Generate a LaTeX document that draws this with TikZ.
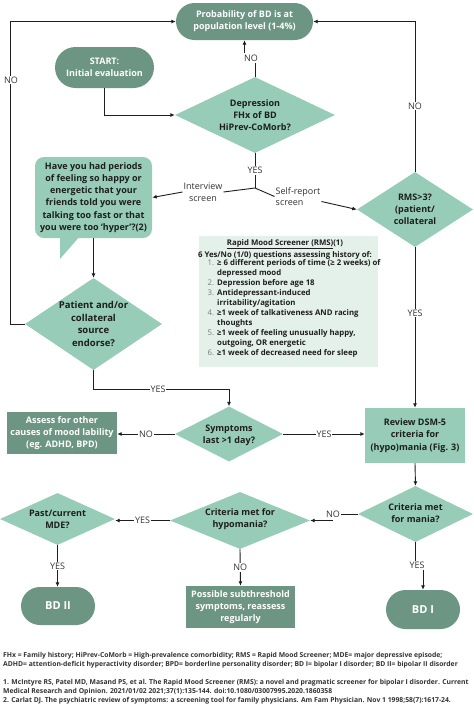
\documentclass[tikz,border=0pt]{standalone}
\usepackage{fontspec}
\setmainfont{Open Sans}
\usetikzlibrary{shapes.geometric,shapes.misc,arrows.meta}
\definecolor{dkg}{HTML}{6C9683}
\definecolor{ltg}{HTML}{96CCB8}
\definecolor{pale}{HTML}{E4F0EA}
\definecolor{ink}{HTML}{1E1E1E}
\definecolor{labc}{HTML}{333333}
\definecolor{numg}{HTML}{7A7A7A}
\newcommand{\rn}[1]{\makebox[9.5pt][l]{\color{numg}\mdseries #1}}
\begin{document}
\begin{tikzpicture}[x=1pt,y=-1pt,
 nfont/.style={font=\bfseries\fontsize{9}{12.2}\selectfont},
 pill/.style={rounded rectangle, fill=dkg, text=white, nfont, align=center, inner sep=0pt},
 dbox/.style={rectangle, fill=dkg, text=white, nfont, align=center, inner sep=0pt},
 lbox/.style={rectangle, fill=ltg, text=ink, nfont, align=center, inner sep=0pt},
 dia/.style={diamond, fill=ltg, inner sep=0pt},
 dtext/.style={text=ink, nfont, align=center, inner sep=0pt},
 lab/.style={text=labc, font=\fontsize{9}{11.5}\selectfont, inner sep=1pt, fill=white},
 conn/.style={draw=ink, line width=0.9pt},
 arr/.style={conn, -{Latex[length=4.5pt,width=4pt]}},
 fn/.style={text=labc, font=\bfseries\fontsize{6.8}{9}\selectfont, inner sep=0pt, anchor=base west},
]
\fill[white] (0,0) rectangle (474,705);
\useasboundingbox (0,0) rectangle (474,705);

% nodes
\node[pill, minimum width=137pt, minimum height=37pt] (top) at (244.5,21.5) {Probability of BD is at\\population level (1-4\%)};
\node[pill, minimum width=99pt, minimum height=41pt] (start) at (104.5,67.5) {START:\\Initial evaluation};
\node[dia, minimum width=160pt, minimum height=76pt] (dep) at (255,115) {};
\node[dtext] at (dep) {Depression\\FHx of BD\\HiPrev-CoMorb?};

\fill[ltg] (60,236) -- (80,236) -- (60,259) -- cycle;
\node[rectangle, rounded corners=9pt, fill=ltg, minimum width=117pt, minimum height=81pt, inner sep=0pt, text=ink, nfont, align=center] (bub) at (93.5,197.5) {Have you had periods\\of feeling so happy or\\energetic that your\\friends told you were\\talking too fast or that\\you were too ‘hyper’?(2)};

\node[dia, minimum width=137pt, minimum height=92pt] (pat) at (93.5,324) {};
\node[dtext, font=\bfseries\fontsize{9.5}{12.5}\selectfont] at (pat) {Patient and/or\\collateral\\source\\endorse?};

\node[dia, minimum width=116pt, minimum height=75pt] (rms) at (415,209.5) {};
\node[dtext] at (rms) {RMS>3?\\(patient/\\collateral};

\node[rectangle, fill=pale, minimum width=179pt, minimum height=131pt, inner sep=0pt] (rmsb) at (288.5,301.5) {};
\node[text=ink, font=\bfseries\fontsize{7.8}{12}\selectfont, align=center, inner sep=0pt] (rmst) at (285,249) {\underline{Rapid Mood Screener (RMS)}(1)\\6 Yes/No (1/0) questions assessing history of:};
\node[text=ink, font=\bfseries\fontsize{7.8}{10}\selectfont, align=left, anchor=north west, inner sep=0pt] (rmsl) at (207.5,259) {\rn{1.}≥ 6 different periods of time (≥ 2 weeks) of\\
\hspace*{9.5pt}depressed mood\\
\rn{2.}Depression before age 18\\
\rn{3.}Antidepressant-induced\\
\hspace*{9.5pt}irritability/agitation\\
\rn{4.}≥1 week of talkativeness AND racing\\
\hspace*{9.5pt}thoughts\\
\rn{5.}≥1 week of feeling unusually happy,\\
\hspace*{9.5pt}outgoing, OR energetic\\
\rn{6.}≥1 week of decreased need for sleep};

\node[dia, minimum width=108pt, minimum height=55pt] (sym) at (229,434) {};
\node[dtext] at ([yshift=-1.5pt]sym.center) {Symptoms\\last >1 day?};
\node[dbox, minimum width=110pt, minimum height=42pt] (assess) at (62,433) {Assess for other\\causes of mood lability\\(eg. ADHD, BPD)};
\node[lbox, minimum width=100pt, minimum height=55pt] (review) at (415,435.5) {Review DSM-5\\criteria for\\(hypo)mania (Fig. 3)};

\node[dia, minimum width=115pt, minimum height=56pt] (mania) at (415.5,514) {};
\node[dtext] at ([yshift=1pt]mania.center) {Criteria met\\for mania?};
\node[dia, minimum width=140pt, minimum height=57pt] (hypo) at (240,520.5) {};
\node[dtext] at ([yshift=1pt]hypo.center) {Criteria met for\\hypomania?};
\node[dia, minimum width=115pt, minimum height=52pt] (mde) at (57.5,519) {};
\node[dtext] at (mde) {Past/current\\MDE?};

\node[pill, minimum width=74pt, minimum height=38pt, font=\bfseries\fontsize{11}{13}\selectfont] (bd2) at (58,606) {BD II};
\node[dbox, minimum width=109pt, minimum height=42pt] (poss) at (240.5,607) {Possible subthreshold\\symptoms, reassess\\regularly};
\node[pill, minimum width=74pt, minimum height=39pt, font=\bfseries\fontsize{11}{13}\selectfont] (bd1) at (423,609.5) {BD I};

% connectors
\draw[arr] (start.south) |- (dep.west);
\node[lab] (nt) at (251,58) {NO};
\draw[conn] (dep.north) -- (dep.north |- nt.south);
\draw[arr] (nt.north -| top.south) -- (top.south);

\coordinate (jn) at (255,188);
\draw[conn] (dep.south) -- node[lab]{YES} (jn);
\node[lab, align=center, fill=none] (intv) at (203,192) {Interview\\screen};
\draw[conn] (jn) -- (intv.east);
\draw[arr] (intv.west) -- (bub.east);
\node[lab, align=left, fill=none] (sr) at (298,196.5) {Self-report\\screen};
\draw[conn] (jn) -- (sr.west);
\draw[arr] ([yshift=-5pt]sr.east) -- (rms.west);

\draw[arr] (pat.west) -- ++(-14,0) |- (top.west);
\node[lab] at (11,80) {NO};
\draw[arr] (rms.north) |- (top.east);
\node[lab] at (415,106) {NO};
\draw[arr] (rms.south) -- node[lab, pos=0.41]{YES} (review.north);

\draw[arr] (bub.south) -- (pat.north);
\draw[arr] (pat.south) -- ++(0,19) -| (sym.north);
\node[lab] at (158,389) {YES};
\draw[arr] (sym.west) -- node[lab]{NO} (sym.west -| assess.east);
\draw[arr] (sym.east) -- node[lab]{YES} (sym.east -| review.west);

\draw[arr] (review.south) -- (mania.north);
\node[lab] (nom) at (333,514) {NO};
\draw[conn] (mania.west) -- (nom.east);
\draw[arr] (nom.south |- hypo.east) -- (hypo.east);
\draw[arr] (hypo.west) -- node[lab]{YES} (hypo.west -| mde.east);
\draw[arr] (mde.south) -- node[lab]{YES} (mde.south |- bd2.north);
\draw[arr] (hypo.south) -- node[lab]{NO} (poss.north);
\node[lab] (ym) at (417,565) {YES};
\draw[conn] (mania.south) -- (mania.south |- ym.north);
\draw[arr] (ym.south -| bd1.north) -- (bd1.north);

% footnotes
\node[fn] (f1) at (3,657) {FHx = Family history; HiPrev-CoMorb = High-prevalence comorbidity; RMS = Rapid Mood Screener; MDE= major depressive episode;};
\node[fn] (f2) at (3,666) {ADHD= attention-deficit hyperactivity disorder; BPD= borderline personality disorder; BD I= bipolar I disorder; BD II= bipolar II disorder};
\node[fn] (f3) at (3,684) {1. McIntyre RS, Patel MD, Masand PS, et al. The Rapid Mood Screener (RMS): a novel and pragmatic screener for bipolar I disorder. Current};
\node[fn] (f4) at (3,693) {Medical Research and Opinion. 2021/01/02 2021;37(1):135-144. doi:10.1080/03007995.2020.1860358};
\node[fn] (f5) at (3,702) {2. Carlat DJ. The psychiatric review of symptoms: a screening tool for family physicians. Am Fam Physician. Nov 1 1998;58(7):1617-24.};
\end{tikzpicture}
\end{document}
